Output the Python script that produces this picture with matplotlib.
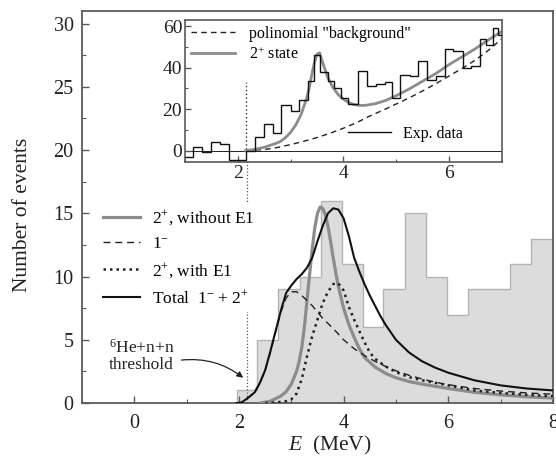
import numpy as np
import matplotlib
matplotlib.use("Agg")
import matplotlib.pyplot as plt

plt.rcParams["font.family"] = ["Liberation Serif", "DejaVu Serif"]
plt.rcParams["mathtext.fontset"] = "custom"
plt.rcParams["mathtext.rm"] = "Liberation Serif"
plt.rcParams["mathtext.it"] = "Liberation Serif:italic"

# main histogram (events)
hist_edges = [1.96, 2.35, 2.75, 3.16, 3.56, 3.96, 4.37, 4.76, 5.17, 5.57, 5.98, 6.37, 6.76, 7.18, 7.59, 8.0]
hist_counts = [1, 5, 9, 10, 16, 11, 6, 9, 15, 10, 7, 9, 9, 11, 13]

# 2+ without E1 (gray)
e_gray = [2.4, 2.6, 2.8, 2.9, 3.0, 3.1, 3.15, 3.2, 3.25, 3.3, 3.35, 3.4, 3.45, 3.5, 3.55, 3.6, 3.65, 3.7, 3.75,
          3.8, 3.85, 3.9, 4.0, 4.1, 4.2, 4.3, 4.4, 4.6, 4.8, 5.0, 5.25, 5.5, 6.0, 6.5, 7.0, 7.5, 8.0]
n_gray = [0.0, 0.15, 0.55, 0.9, 1.5, 2.5, 3.3, 4.4, 6.0, 8.1, 10.2, 12.2, 13.9, 15.0, 15.5, 15.4, 14.9, 14.0, 12.8,
          11.5, 10.3, 9.2, 7.5, 6.2, 5.2, 4.3, 3.6, 2.85, 2.35, 2.0, 1.7, 1.5, 1.15, 0.85, 0.65, 0.5, 0.4]

# 1- (dashed)
e_1m = [1.95, 2.05, 2.2, 2.3, 2.4, 2.5, 2.6, 2.7, 2.8, 2.9, 3.0, 3.1, 3.2, 3.4, 3.6, 3.8, 4.0, 4.2, 4.4, 4.6,
        4.8, 5.0, 5.25, 5.5, 5.75, 6.0, 6.5, 7.0, 7.5, 8.0]
n_1m = [0.0, 0.05, 0.5, 0.9, 1.6, 2.6, 4.0, 5.6, 7.2, 8.3, 8.8, 8.8, 8.5, 7.7, 6.7, 5.9, 5.0, 4.3, 3.75, 3.3,
        2.9, 2.55, 2.2, 1.9, 1.65, 1.45, 1.15, 0.95, 0.8, 0.7]

# 2+ with E1 (dotted)
e_e1 = [2.5, 2.7, 2.9, 3.0, 3.1, 3.2, 3.3, 3.4, 3.5, 3.6, 3.7, 3.8, 3.85, 3.9, 4.0, 4.1, 4.2, 4.3, 4.4, 4.5,
        4.6, 4.8, 5.0, 5.25, 5.5, 6.0, 6.5, 7.0, 7.5, 8.0]
n_e1 = [0.0, 0.05, 0.15, 0.3, 0.75, 1.9, 3.7, 5.3, 6.6, 7.9, 8.8, 9.4, 9.5, 9.45, 8.9, 7.6, 6.6, 5.7, 4.8, 4.0,
        3.5, 2.9, 2.45, 2.05, 1.8, 1.4, 1.0, 0.8, 0.65, 0.55]

# total 1- + 2+
e_tot = [1.95, 2.05, 2.2, 2.3, 2.4, 2.5, 2.6, 2.7, 2.8, 2.9, 3.0, 3.1, 3.2, 3.3, 3.4, 3.5, 3.6, 3.7, 3.8, 3.9,
         4.0, 4.1, 4.2, 4.3, 4.4, 4.5, 4.6, 4.7, 4.8, 5.0, 5.25, 5.5, 5.75, 6.0, 6.5, 7.0, 7.5, 8.0]
n_tot = [0.0, 0.05, 0.5, 0.85, 1.6, 2.6, 4.1, 5.7, 7.3, 8.7, 9.3, 9.8, 10.2, 10.7, 11.5, 12.8, 14.0, 15.0, 15.4, 15.3,
         14.6, 13.2, 11.5, 10.4, 9.4, 8.5, 7.7, 6.9, 6.2, 5.0, 4.0, 3.3, 2.8, 2.4, 1.8, 1.4, 1.15, 1.0]

threshold = 2.15

# inset: experimental spectrum
ins_edges = [1.0, 1.16, 1.33, 1.5, 1.66, 1.83, 2.0, 2.16, 2.32, 2.49, 2.66, 2.82, 3.0, 3.16, 3.32, 3.44, 3.56,
             3.7, 3.83, 3.95, 4.09, 4.28, 4.45, 4.62, 4.79, 4.92, 5.07, 5.26, 5.41, 5.59, 5.76, 5.92, 6.08,
             6.26, 6.42, 6.58, 6.7, 6.83, 6.92, 7.0]
ins_counts = [-3, 1.5, -0.5, 4.3, 3.2, -4.3, -4.3, 0, 6.4, 12.8, 8.5, 22, 19.2, 24.5, 33.7, 46, 38, 33.5, 30,
              25.6, 22.5, 38.5, 31, 32, 33, 25.5, 36.5, 36, 43, 34, 36, 49, 48, 40, 41, 54, 51, 59, 56]

# inset: 2+ state fit
ins_e_fit = [2.15, 2.3, 2.5, 2.7, 2.8, 2.9, 3.0, 3.1, 3.2, 3.3, 3.35, 3.4, 3.45, 3.5, 3.55, 3.6, 3.7, 3.8, 3.9,
             4.0, 4.1, 4.2, 4.3, 4.4, 4.6, 4.8, 5.0, 5.25, 5.5, 5.75, 6.0, 6.25, 6.5, 6.75, 7.0]
ins_n_fit = [0, 0.5, 1.6, 3.3, 4.3, 6.2, 8.8, 12.5, 17.5, 25, 30, 36.5, 42.5, 46.5, 47.2, 43, 35.5, 30.5, 27,
             24.8, 23.2, 22.2, 21.8, 21.8, 22.6, 24.2, 26.5, 29.8, 33.5, 37.2, 41.5, 45.3, 49.2, 53.5, 57.5]

# inset: polynomial background
ins_e_bg = [2.15, 2.5, 2.75, 3.0, 3.25, 3.5, 3.75, 4.0, 4.25, 4.5, 4.75, 5.0, 5.25, 5.5, 5.75, 6.0, 6.25, 6.5,
            6.75, 7.0]
ins_n_bg = [0, 0.5, 1.5, 2.9, 4.5, 6.3, 8.4, 10.8, 13.5, 16.7, 19.5, 22.5, 25.5, 28.8, 32.3, 36.0, 39.7, 43.7,
            48.5, 54.0]

spine_col = "#5a5a5a"
gray_line = "#8c8c8c"
text_col = "#222222"

fig = plt.figure(figsize=(5.56, 4.57), dpi=100)
ax = fig.add_axes([0.1475, 0.118, 0.847, 0.858])

ax.stairs(hist_counts, hist_edges, fill=True, facecolor="#dcdcdc", edgecolor="none", zorder=1)
ax.stairs(hist_counts, hist_edges, color="#b4b4b4", lw=1.0, zorder=1.5)

ax.plot([threshold, threshold], [0, 19.5], ls=(0, (1, 1.6)), color="#555555", lw=0.9, zorder=1.8)

l_gray, = ax.plot(e_gray, n_gray, color=gray_line, lw=2.3, label="2$^{+}$, without E1", zorder=3)
l_1m, = ax.plot(e_1m, n_1m, color="#222222", lw=1.0, ls=(0, (5, 3.5)), label="1$^{-}$", zorder=3)
l_e1, = ax.plot(e_e1, n_e1, color="#222222", lw=1.8, ls=(0, (1, 1.6)), label="2$^{+}$, with E1", zorder=3)
l_tot, = ax.plot(e_tot, n_tot, color="#111111", lw=1.5, label="Total  1$^{-}$ + 2$^{+}$", zorder=4)

ax.set_xlim(-1, 8)
ax.set_ylim(0, 31)
ax.set_xticks([0, 2, 4, 6, 8])
ax.set_xticks(np.arange(-1, 8.5, 1), minor=True)
ax.set_yticks([0, 5, 10, 15, 20, 25, 30])
ax.set_yticks(np.arange(0, 31, 2.5), minor=True)
ax.tick_params(which="both", direction="in", color=spine_col, labelsize=14.5, labelcolor=text_col)
ax.tick_params(which="major", length=5, width=1.0)
ax.tick_params(which="minor", length=3, width=0.8)
ax.tick_params(axis="y", pad=6)
ax.tick_params(axis="x", pad=8)
for s in ax.spines.values():
    s.set_color(spine_col)
    s.set_linewidth(1.3)

ax.set_ylabel("Number of events", fontsize=15.5, color=text_col)
ax.yaxis.set_label_coords(-0.107, 0.48)
ax.set_xlabel("$E$  (MeV)", fontsize=15.5, color=text_col)
ax.xaxis.set_label_coords(0.527, -0.08)

leg = ax.legend(handles=[l_gray, l_1m, l_e1, l_tot], loc="upper left", bbox_to_anchor=(0.034, 0.51),
                borderaxespad=0, borderpad=0.3, handlelength=2.1, handletextpad=0.7, labelspacing=0.48,
                fontsize=12.5, frameon=True, fancybox=False)
leg.get_frame().set_facecolor("white")
leg.get_frame().set_edgecolor("none")
leg.get_frame().set_alpha(1)
leg.set_zorder(5)

ax.text(-0.48, 3.75, "$^{6}$He+n+n\nthreshold", fontsize=12.5, ha="left", va="center",
        color=text_col, linespacing=1.05)
ax.annotate("", xy=(2.08, 2.0), xytext=(0.9, 3.4),
            arrowprops=dict(arrowstyle="-|>", color="#222222", lw=0.9, mutation_scale=9,
                            shrinkA=0, shrinkB=0, connectionstyle="arc3,rad=-0.2"))

# inset
ins = fig.add_axes([0.3327, 0.6455, 0.570, 0.3107])
ins.set_facecolor("white")
ins.axhline(0, color="#222222", lw=0.7, zorder=1)
ins.plot([threshold, threshold], [1, 33], ls=(0, (1, 1.8)), color="#333333", lw=1.0)
ins.stairs(ins_counts, ins_edges, baseline=None, color="#111111", lw=1.0, zorder=3)
h_bg, = ins.plot(ins_e_bg, ins_n_bg, color="#222222", lw=1.0, ls=(0, (4, 3)), zorder=2)
h_fit, = ins.plot(ins_e_fit, ins_n_fit, color=gray_line, lw=2.0, zorder=2.5)
h_exp, = ins.plot([], [], color="#111111", lw=1.0)

ins.set_xlim(1, 7)
ins.set_ylim(-5.5, 63)
ins.set_xticks([2, 4, 6])
ins.set_xticks([1, 3, 5, 7], minor=True)
ins.set_yticks([0, 20, 40, 60])
ins.set_yticks([10, 30, 50], minor=True)
ins.tick_params(which="both", direction="in", color=spine_col, labelsize=14, labelcolor=text_col, pad=2)
ins.tick_params(which="major", length=4, width=1.0)
ins.tick_params(which="minor", length=2.5, width=0.8)
for s in ins.spines.values():
    s.set_color(spine_col)
    s.set_linewidth(1.2)

leg1 = ins.legend([h_bg, h_fit], ['polinomial "background"', "2$^{+}$ state"], loc="upper left",
                  bbox_to_anchor=(0.0, 1.0), borderaxespad=0, borderpad=0.35, handlelength=2.8,
                  handletextpad=0.85, labelspacing=0.3, fontsize=11.5, frameon=False)
ins.add_artist(leg1)
ins.legend([h_exp], ["Exp. data"], loc="center left", bbox_to_anchor=(0.515, 0.2), borderaxespad=0,
           borderpad=0, handlelength=2.7, handletextpad=0.75, fontsize=11.5, frameon=False)

fig.savefig("out.png", dpi=100)
